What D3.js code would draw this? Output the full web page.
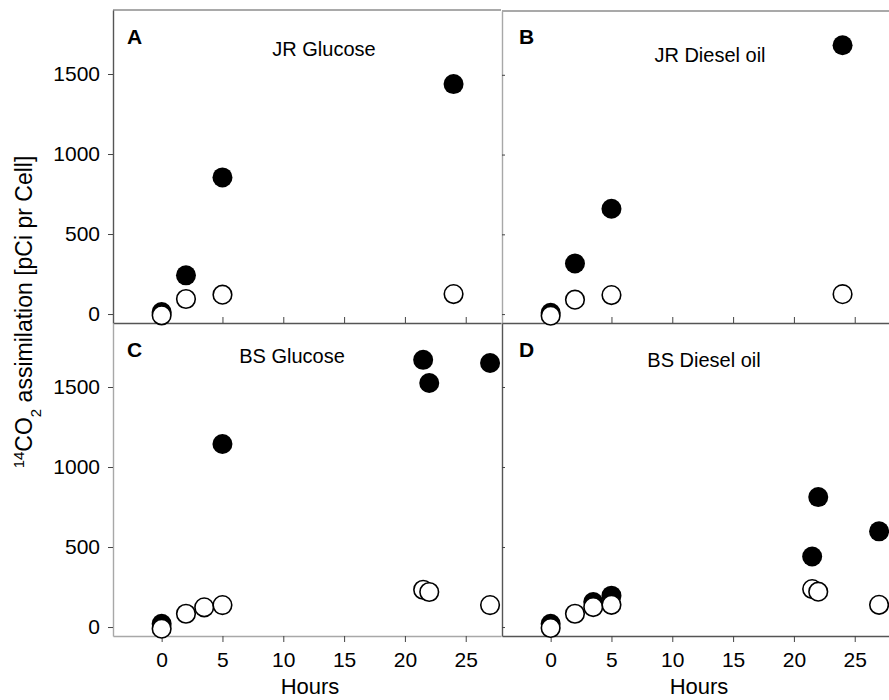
<!DOCTYPE html>
<html>
<head>
<meta charset="utf-8">
<script src="https://cdn.jsdelivr.net/npm/d3@7"></script>
<style>
  html, body { margin: 0; padding: 0; background: #fff; }
  svg { display: block; }
  text { font-family: "Liberation Sans", Arial, sans-serif; fill: #000; }
</style>
</head>
<body>
<svg id="chart" width="889" height="700"></svg>
<script>
// ---------- data ----------
const panelLetters = ["A", "B", "C", "D"];
const panelTitles = ["JR Glucose", "JR Diesel oil", "BS Glucose", "BS Diesel oil"];

const filledHoursA = [0, 2, 5, 24];
const filledValuesA = [12, 242, 854, 1437];
const openHoursA = [0, 2, 5, 24];
const openValuesA = [-8, 94, 121, 125];

const filledHoursB = [0, 2, 5, 24];
const filledValuesB = [8, 317, 660, 1685];
const openHoursB = [0, 2, 5, 24];
const openValuesB = [-10, 90, 119, 125];

const filledHoursC = [0, 5, 21.5, 22, 27];
const filledValuesC = [20, 1144, 1670, 1525, 1650];
const openHoursC = [0, 2, 3.5, 5, 21.5, 22, 27];
const openValuesC = [-10, 83, 123, 137, 233, 219, 137];

const filledHoursD = [0, 3.5, 5, 21.5, 22, 27];
const filledValuesD = [20, 156, 196, 441, 812, 598];
const openHoursD = [0, 2, 3.5, 5, 21.5, 22, 27];
const openValuesD = [-6, 83, 125, 139, 237, 221, 139];

const xTicks = [0, 5, 10, 15, 20, 25];
const yTicks = [0, 500, 1000, 1500];
const xDomain = [-4, 27.9];
const yDomain = [-56, 1900];
const xTitle = "Hours";

// ---------- layout ----------
const svg = d3.select("#chart");
const font = '"Liberation Sans", Arial, sans-serif';
const dark = "#555";
const light = "#a8a8a8";

const panels = [
  {letter: panelLetters[0], title: panelTitles[0], fh: filledHoursA, fv: filledValuesA, oh: openHoursA, ov: openValuesA,
   x0: 113, x1: 501, y0: 10, y1: 323, top: true, left: true, titleX: 324, titleY: 56, leftCol: dark, botCol: dark},
  {letter: panelLetters[1], title: panelTitles[1], fh: filledHoursB, fv: filledValuesB, oh: openHoursB, ov: openValuesB,
   x0: 502, x1: 890, y0: 11, y1: 323, top: true, left: false, titleX: 710, titleY: 62, leftCol: light, botCol: dark},
  {letter: panelLetters[2], title: panelTitles[2], fh: filledHoursC, fv: filledValuesC, oh: openHoursC, ov: openValuesC,
   x0: 113, x1: 501, y0: 323, y1: 636, top: false, left: true, titleX: 292, titleY: 363, leftCol: light, botCol: light},
  {letter: panelLetters[3], title: panelTitles[3], fh: filledHoursD, fv: filledValuesD, oh: openHoursD, ov: openValuesD,
   x0: 502, x1: 890, y0: 323, y1: 636, top: false, left: false, titleX: 704, titleY: 367, leftCol: dark, botCol: dark}
];

panels.forEach(p => {
  const x = d3.scaleLinear().domain(xDomain).range([p.x0, p.x1]);
  const y = d3.scaleLinear().domain(yDomain).range([p.y1, p.y0]);
  const g = svg.append("g");

  // frame top border for top panels
  if (p.top) {
    g.append("line").attr("x1", p.x0).attr("x2", p.x1).attr("y1", p.y0).attr("y2", p.y0)
      .attr("stroke", dark).attr("stroke-width", 1.2);
  }

  // y axis
  const yAxis = p.left
    ? d3.axisLeft(y).tickValues(yTicks).tickSize(5).tickPadding(8).tickSizeOuter(0).tickFormat(d3.format("d"))
    : d3.axisRight(y).tickValues(yTicks).tickSize(3).tickFormat("").tickSizeOuter(0);
  const ya = g.append("g").attr("transform", `translate(${p.x0},0)`).call(yAxis);
  ya.select(".domain").attr("stroke", p.leftCol).attr("stroke-width", 1.4);
  ya.selectAll(".tick line").attr("stroke", "#444");
  ya.selectAll(".tick text").style("font-family", font).style("font-size", "21px").attr("fill", "#000");

  // x axis
  const xAxis = p.top
    ? d3.axisTop(x).tickValues(xTicks).tickSize(6).tickFormat("").tickSizeOuter(0)
    : d3.axisBottom(x).tickValues(xTicks).tickSize(6).tickPadding(10).tickSizeOuter(0).tickFormat(d3.format("d"));
  const xa = g.append("g").attr("transform", `translate(0,${p.y1})`).call(xAxis);
  xa.select(".domain").attr("stroke", p.botCol).attr("stroke-width", 1.4);
  xa.selectAll(".tick line").attr("stroke", "#444");
  xa.selectAll(".tick text").style("font-family", font).style("font-size", "21px").attr("fill", "#000");

  // panel letter
  g.append("text").attr("x", p.left ? 127 : 519).attr("y", p.top ? 44 : 357)
    .style("font-size", "21px").style("font-weight", "bold").text(p.letter);

  // title
  g.append("text").attr("x", p.titleX).attr("y", p.titleY).attr("text-anchor", "middle")
    .style("font-size", "20px").text(p.title);

  // x title
  if (!p.top) {
    g.append("text").attr("x", (p.x0 + p.x1) / 2 + 3).attr("y", 694).attr("text-anchor", "middle")
      .style("font-size", "22px").text(xTitle);
  }

  // filled markers
  g.append("g").selectAll("circle").data(p.fh.map((h, i) => ({h, v: p.fv[i]})))
    .join("circle").attr("cx", d => x(d.h)).attr("cy", d => y(d.v)).attr("r", 10)
    .attr("fill", "#000");

  // open markers
  g.append("g").selectAll("circle").data(p.oh.map((h, i) => ({h, v: p.ov[i]})))
    .join("circle").attr("cx", d => x(d.h)).attr("cy", d => y(d.v)).attr("r", 9.3)
    .attr("fill", "#fff").attr("stroke", "#000").attr("stroke-width", 1.6);
});

// y axis title
const yt = svg.append("text")
  .attr("transform", "translate(32,312) rotate(-90)")
  .attr("text-anchor", "middle")
  .style("font-size", "23px");
yt.append("tspan").attr("baseline-shift", "super").style("font-size", "15px").text("14");
yt.append("tspan").text("CO");
yt.append("tspan").attr("baseline-shift", "sub").style("font-size", "15px").text("2");
yt.append("tspan").text(" assimilation [pCi pr Cell]");
</script>
</body>
</html>
